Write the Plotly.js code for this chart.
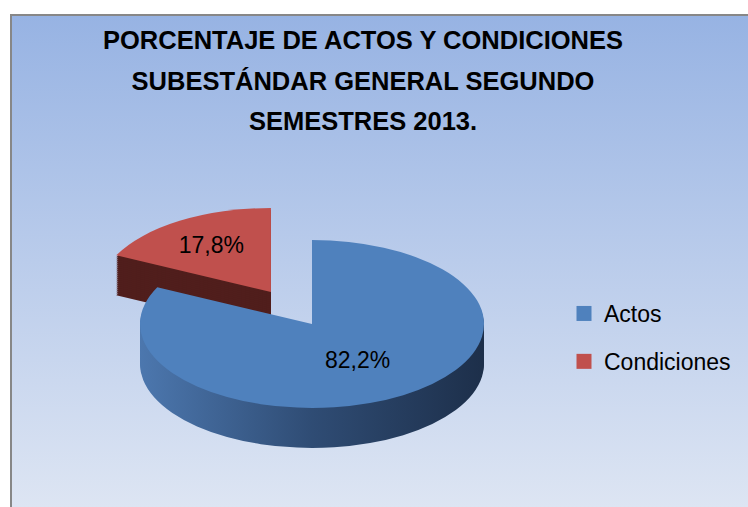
<!DOCTYPE html>
<html><head><meta charset="utf-8">
<script src="https://cdn.plot.ly/plotly-3.0.1.min.js"></script>
<style>
html,body{margin:0;padding:0;background:#fff;width:748px;height:507px;overflow:hidden;}
#frame{position:absolute;left:10px;top:14px;width:736px;height:491px;border-left:2px solid #878787;border-top:2px solid #878787;background:linear-gradient(to bottom,#97B3E3 0%,#DDE5F3 100%);}
#chart{position:absolute;left:0;top:0;width:748px;height:507px;}
</style></head><body>
<div id="frame"></div><div id="chart"></div>
<script>
// ---- data ----
const titleLines = ['PORCENTAJE DE ACTOS Y CONDICIONES', 'SUBESTÁNDAR GENERAL SEGUNDO', 'SEMESTRES 2013.'];
const categories = ['Actos', 'Condiciones'];
const percentages = [82.2, 17.8];
const pulls = [0, 0.45];

// ---- styling / geometry ----
const topColors = ['#4F81BD', '#C0504D'];
const sideColors = ['#34557F', '#501E1C'];
const W = 748, H = 507;
const R = 172, tilt = 0.488, cx = 312, cyTop = 324, depth = 40, nLayers = 20;
const maxPull = Math.max(...pulls);
const half = R * (1 + maxPull);
const domain = { x: [(cx - half) / W, (cx + half) / W], y: [(H / 2 - half) / H, (H / 2 + half) / H] };
const cy0 = H / 2;
const font = 'Liberation Sans, Arial, sans-serif';

const traces = [];
const offsets = [];
for (let i = nLayers; i >= 1; i--) {
  offsets.push(depth * i / nLayers);
  traces.push({
    type: 'pie', labels: categories, values: percentages, sort: false, direction: 'clockwise', rotation: 0,
    pull: pulls, domain: domain, marker: { colors: sideColors, line: { width: 0 } },
    textinfo: 'none', hoverinfo: 'none', showlegend: false
  });
}
offsets.push(0);
traces.push({
  type: 'pie', labels: categories, values: percentages, sort: false, direction: 'clockwise', rotation: 0,
  pull: pulls, domain: domain, marker: { colors: topColors, line: { width: 0 } },
  texttemplate: '%{percent:.1%}', textposition: 'inside', insidetextorientation: 'horizontal',
  textfont: { family: font, size: 23, color: '#000000' }, hoverinfo: 'none', showlegend: true
});

const layout = {
  width: W, height: H, margin: { l: 0, r: 0, t: 0, b: 0 },
  paper_bgcolor: 'rgba(0,0,0,0)', plot_bgcolor: 'rgba(0,0,0,0)',
  separators: ',.',
  title: { text: titleLines.join('<br>'), font: { family: font, size: 25.5, color: '#000000', weight: 'bold' },
    x: 363 / W, xanchor: 'center', y: 1 - 8 / H, yanchor: 'top', yref: 'container' },
  legend: { x: 564 / W, xanchor: 'left', y: 1 - 292 / H, yanchor: 'top', bgcolor: 'rgba(0,0,0,0)',
    font: { family: font, size: 23, color: '#000000' } },
  showlegend: true
};

Plotly.newPlot('chart', traces, layout, { staticPlot: true }).then(gd => {
  // gradient for the cylinder side
  const svg = gd.querySelector('svg.main-svg');
  const ns = 'http://www.w3.org/2000/svg';
  let defs = svg.querySelector('defs');
  const lg = document.createElementNS(ns, 'linearGradient');
  lg.setAttribute('id', 'blueSide'); lg.setAttribute('gradientUnits', 'userSpaceOnUse');
  lg.setAttribute('x1', cx - R); lg.setAttribute('x2', cx + R); lg.setAttribute('y1', 0); lg.setAttribute('y2', 0);
  [['0', '#4C77AE'], ['0.5', '#2F4C74'], ['1', '#1D2F4A']].forEach(([o, c]) => {
    const s = document.createElementNS(ns, 'stop'); s.setAttribute('offset', o); s.setAttribute('stop-color', c); lg.appendChild(s);
  });
  defs.appendChild(lg);

  const groups = gd.querySelectorAll('.pielayer > g.trace');
  const topG = groups[groups.length - 1];
  const texts = Array.from(topG.querySelectorAll('g.slicetext text'));
  const centers = texts.map(t => { const b = t.getBoundingClientRect(); return [b.left + b.width / 2, b.top + b.height / 2]; });
  groups.forEach((g, i) => {
    g.setAttribute('transform', `translate(0,${cyTop + offsets[i]}) scale(1,${tilt}) translate(0,${-cy0})`);
    if (i < groups.length - 1) {
      const p = g.querySelectorAll('g.slice path.surface')[0];
      if (p) p.style.fill = 'url(#blueSide)';
    }
  });
  texts.forEach((t, j) => {
    const [X, Y] = centers[j];
    const old = t.getAttribute('transform') || '';
    t.setAttribute('transform', `translate(${X},${Y}) scale(1,${1 / tilt}) translate(${-X},${-Y}) ${old}`);
  });
  // title line spacing
  gd.querySelectorAll('.gtitle tspan.line').forEach((t, i) => t.setAttribute('dy', ((i + 1) * 1.6) + 'em'));
  // legend: item spacing, larger squares, no clipping
  gd.querySelectorAll('.legend g.scrollbox').forEach(s => s.removeAttribute('clip-path'));
  gd.querySelectorAll('.legend g.traces').forEach((t, i) => {
    const tr = t.getAttribute('transform') || '';
    t.setAttribute('transform', `translate(0,${i * 15}) ${tr}`);
  });
  gd.querySelectorAll('.legend .legendpoints path').forEach(p => {
    const tr = p.getAttribute('transform') || '';
    p.setAttribute('transform', `${tr} scale(1.25)`);
  });
});
</script>
</body></html>
